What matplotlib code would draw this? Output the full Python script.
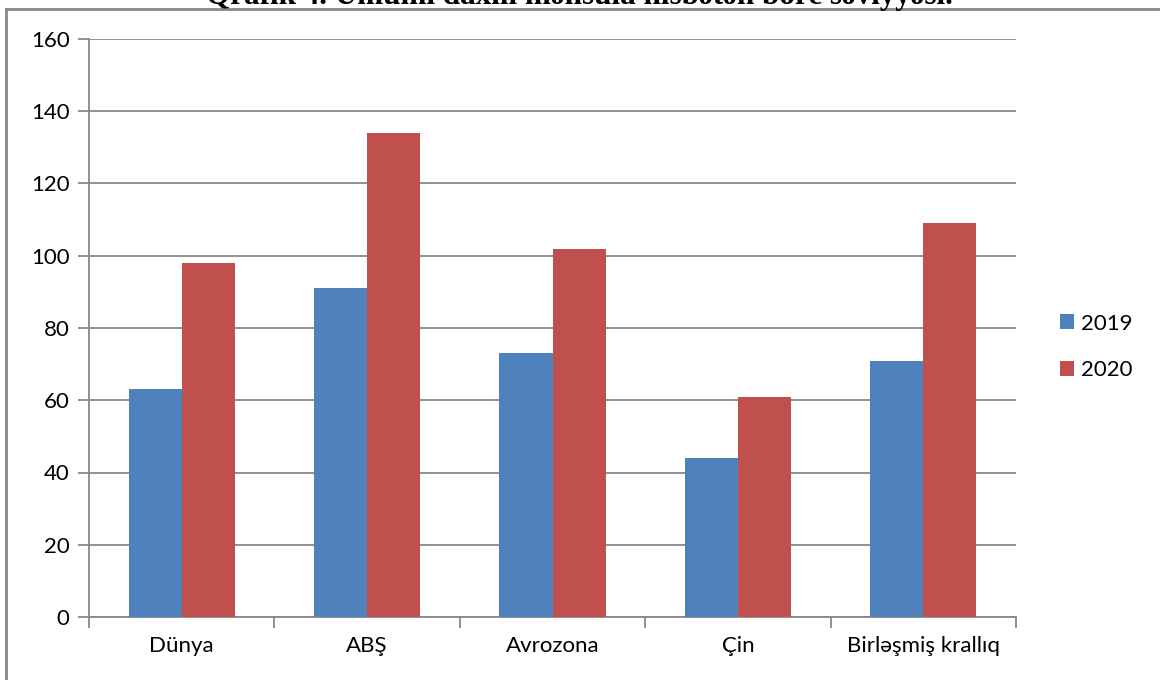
import numpy as np
import matplotlib
matplotlib.use("Agg")
import matplotlib.pyplot as plt
from matplotlib.lines import Line2D

categories = ["Dünya", "ABŞ", "Avrozona", "Çin", "Birləşmiş krallıq"]
vals_2019 = [63, 91, 73, 44, 71]
vals_2020 = [98, 134, 102, 61, 109]
series_names = ["2019", "2020"]
yticks = [0, 20, 40, 60, 80, 100, 120, 140, 160]
title = "Qrafik 4. Ümumi daxili məhsula nisbətən borc səviyyəsi."

blue = "#4F81BD"
red = "#C0504D"
gray = "#888888"

plt.rcParams['font.family'] = ['Lato', 'DejaVu Sans']

fig = plt.figure(figsize=(11.6, 6.8), dpi=100)
ax = fig.add_axes([89/1160, 63/680, (1016-89)/1160, (617-39)/680])

x = np.arange(len(categories))
w = 0.286
ax.bar(x - w/2, vals_2019, width=w, color=blue, label=series_names[0], zorder=3)
ax.bar(x + w/2, vals_2020, width=w, color=red, label=series_names[1], zorder=3)

ax.set_xlim(-0.5, len(categories) - 0.5)
ax.set_ylim(0, 160)
ax.set_yticks(yticks)
ax.set_yticklabels([str(t) for t in yticks], fontsize=16)
ax.yaxis.grid(True, color=gray, linewidth=1.3, zorder=0)

# category labels between boundary ticks
ax.set_xticks(np.arange(len(categories) + 1) - 0.5)
ax.set_xticklabels([""] * (len(categories) + 1))
ax.set_xticks(x, minor=True)
ax.set_xticklabels(categories, minor=True, fontsize=16)
ax.tick_params(axis='x', which='minor', length=0, pad=14)
ax.tick_params(axis='x', which='major', length=8, width=1.3, color=gray, direction='out')
ax.tick_params(axis='y', length=8, width=1.3, color=gray, direction='out', pad=6)

for s in ["top", "right"]:
    ax.spines[s].set_visible(False)
for s in ["left", "bottom"]:
    ax.spines[s].set_color(gray)
    ax.spines[s].set_linewidth(1.3)

ax.legend(loc='center left', bbox_to_anchor=(1040/1160, 333/680),
          bbox_transform=fig.transFigure, frameon=False, fontsize=16,
          handlelength=0.65, handleheight=0.65, handletextpad=0.3, labelspacing=1.2)

# outer chart border (only top and left visible in the crop)
fig.add_artist(Line2D([6/1160, 1], [1 - 9/680, 1 - 9/680], transform=fig.transFigure,
                      color=gray, linewidth=2))
fig.add_artist(Line2D([6/1160, 6/1160], [0, 1 - 9/680], transform=fig.transFigure,
                      color=gray, linewidth=2))

fig.text(579/1160, 1 - 4/680, title, ha='center', va='baseline',
         fontsize=22.4, fontweight='bold', family=['Liberation Serif', 'DejaVu Serif'])

fig.savefig("out.png", dpi=100)
